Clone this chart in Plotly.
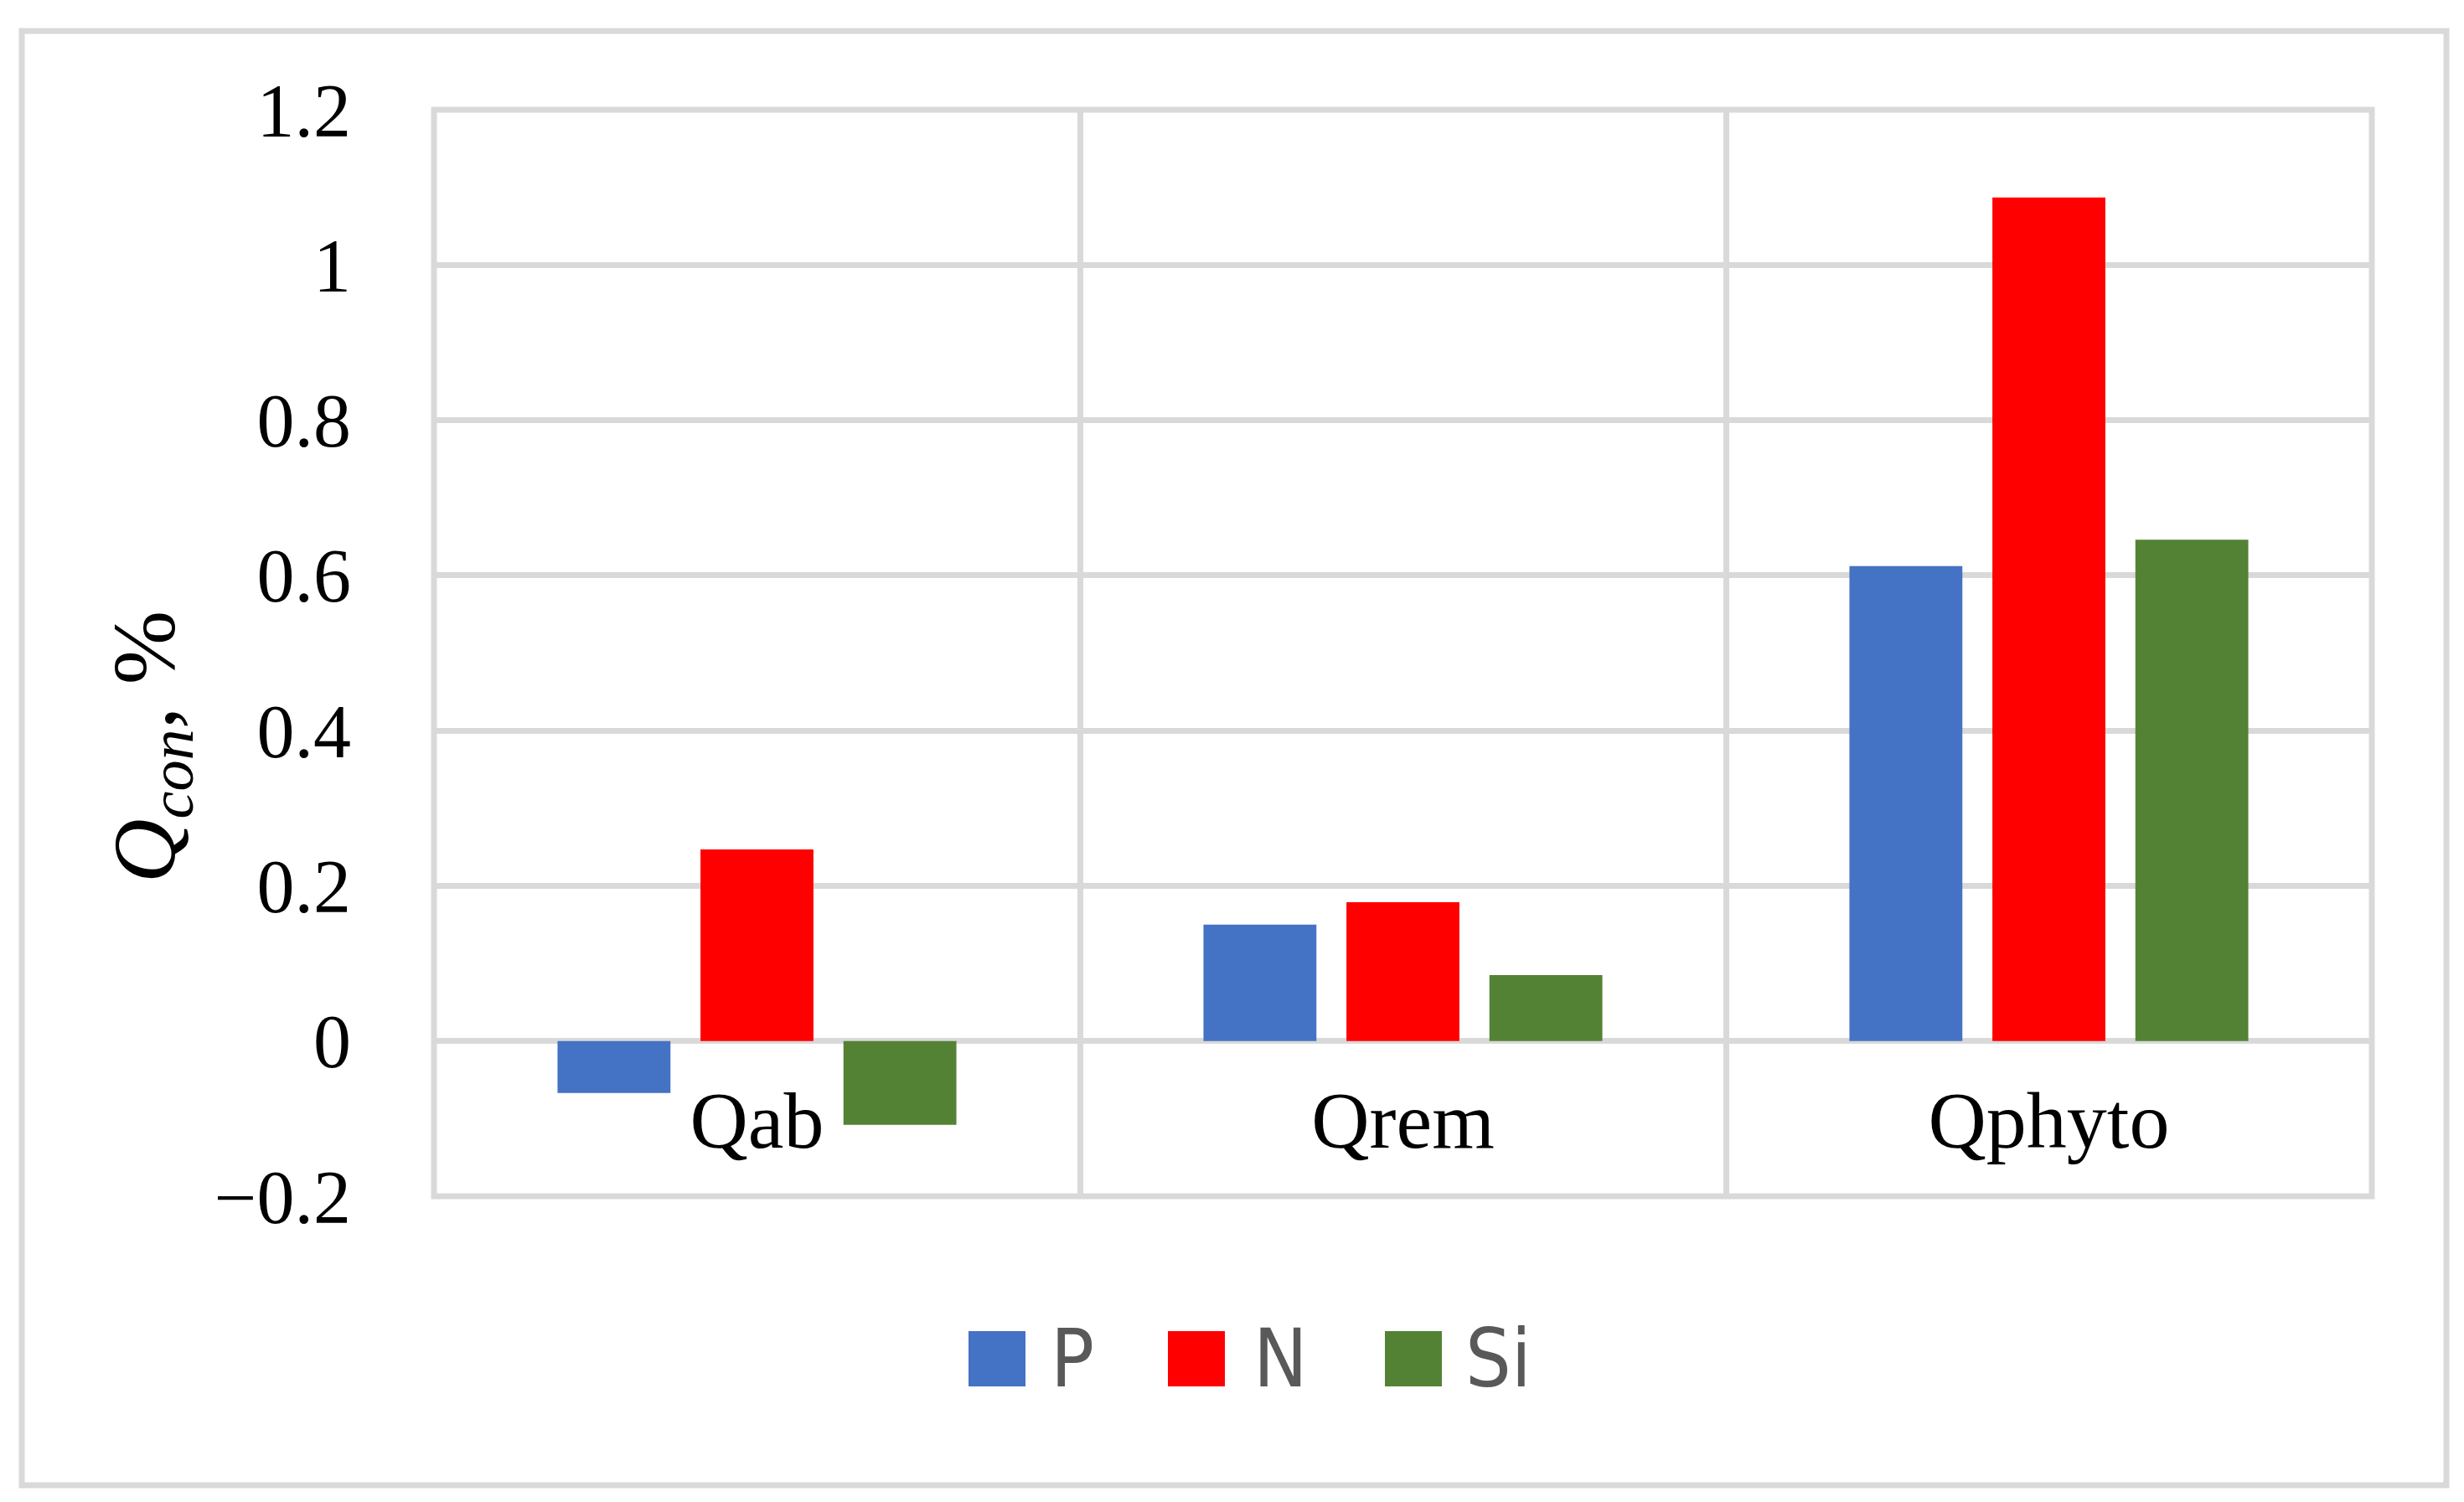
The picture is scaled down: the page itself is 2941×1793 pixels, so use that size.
import plotly.graph_objects as go

# data
categories = ["Qab", "Qrem", "Qphyto"]
p_values = [-0.067, 0.150, 0.612]
n_values = [0.247, 0.179, 1.087]
si_values = [-0.108, 0.085, 0.646]

series_names = ["P", "N", "Si"]
series_colors = ["#4472C4", "#FF0000", "#548235"]

y_ticks = [-0.2, 0, 0.2, 0.4, 0.6, 0.8, 1, 1.2]
y_tick_labels = ["\u22120.2", "0", "0.2", "0.4", "0.6", "0.8", "1", "1.2"]
y_range = [-0.2, 1.2]

W, H = 2941, 1793
L, R, T, B = 510, 2823, 123, 1420   # plot area in pixels
GRID = "#d9d9d9"
SERIF = "Liberation Serif, Times New Roman, serif"
SANS = "DejaVu Sans Condensed, Liberation Sans Narrow, Arial Narrow, sans-serif"


def px_x(x):
    return (x - L) / (R - L)


def px_y(y):
    return (B - y) / (B - T)


fig = go.Figure()
for name, vals, col in zip(series_names, [p_values, n_values, si_values], series_colors):
    fig.add_trace(go.Bar(x=categories, y=vals, name=name, marker=dict(color=col, line=dict(width=0)),
                         showlegend=False))

zero_pos = (0 - y_range[0]) / (y_range[1] - y_range[0])

fig.update_layout(
    width=W, height=H,
    margin=dict(l=L, r=W - R, t=T, b=H - B, pad=0),
    paper_bgcolor="white", plot_bgcolor="white",
    barmode="group", bargap=0.336, bargroupgap=0.21,
    xaxis=dict(type="category", categoryorder="array", categoryarray=categories,
               tickson="boundaries", showgrid=True, gridcolor=GRID, gridwidth=7,
               anchor="free", position=zero_pos, showline=False, zeroline=False,
               ticks="", ticklabelstandoff=30,
               tickfont=dict(family=SERIF, size=96, color="black")),
    yaxis=dict(range=y_range, tickvals=y_ticks, ticktext=y_tick_labels,
               showgrid=True, gridcolor=GRID, gridwidth=7, zeroline=False, showline=False,
               ticks="outside", ticklen=80, tickcolor="rgba(0,0,0,0)",
               tickfont=dict(family=SERIF, size=90, color="black")),
)

# plot frame and outer border
fig.add_shape(type="rect", xref="paper", yref="paper", x0=0, x1=1, y0=0, y1=1,
              line=dict(color=GRID, width=7), layer="below")
fig.add_shape(type="rect", xref="paper", yref="paper",
              x0=px_x(18), x1=px_x(2912), y0=px_y(1765), y1=px_y(29),
              line=dict(color=GRID, width=7), layer="below")

# y-axis title
fig.add_annotation(xref="paper", yref="paper", x=px_x(172), y=px_y(884),
                   text="<i>Q</i><sub><i>con</i></sub>, %", textangle=-90, showarrow=False,
                   font=dict(family=SERIF, size=106, color="black"),
                   xanchor="center", yanchor="middle")

# legend drawn by hand
swatch_x = [1148, 1386, 1645]
label_x = [1244, 1486, 1739]
for name, col, sx, lx in zip(series_names, series_colors, swatch_x, label_x):
    fig.add_shape(type="rect", xref="paper", yref="paper",
                  x0=px_x(sx), x1=px_x(sx + 68), y0=px_y(1647), y1=px_y(1581),
                  fillcolor=col, line=dict(width=0))
    fig.add_annotation(xref="paper", yref="paper", x=px_x(lx), y=px_y(1614),
                       text=name, showarrow=False, xanchor="left", yanchor="middle",
                       font=dict(family=SANS, size=96, color="#595959"))

fig.write_html("out.html")
